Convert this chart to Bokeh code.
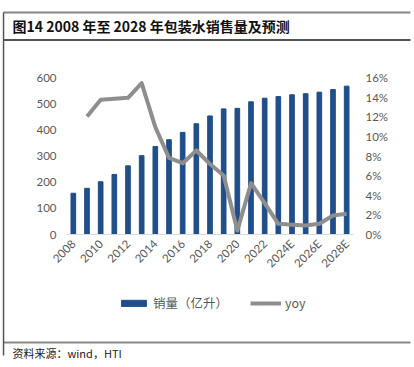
import math
from bokeh.plotting import figure
from bokeh.models import (Range1d, LinearAxis, FixedTicker, PrintfTickFormatter,
                          Legend, LegendItem, Label, BoxAnnotation)
from bokeh.embed import file_html
from bokeh.resources import INLINE

years = ["2008", "2009", "2010", "2011", "2012", "2013", "2014", "2015", "2016", "2017",
         "2018", "2019", "2020", "2021", "2022", "2023", "2024E", "2025E", "2026E",
         "2027E", "2028E"]
sales = [158, 177, 202, 230, 263, 302, 337, 363, 391, 424, 454, 481, 483, 508, 522,
         528, 535, 539, 545, 555, 568]
yoy = [None, 12.05, 13.75, 13.86, 13.96, 15.46, 10.96, 7.83, 7.28, 8.58, 7.2, 6.03, 0.4,
       5.24, 3.2, 1.09, 0.99, 0.92, 1.09, 1.94, 2.11]
shown_labels = ["2008", "2010", "2012", "2014", "2016", "2018", "2020", "2022",
                "2024E", "2026E", "2028E"]
left_ticks = [0, 100, 200, 300, 400, 500, 600]
right_ticks = [0, 2, 4, 6, 8, 10, 12, 14, 16]

title_text = "图14 2008 年至 2028 年包装水销售量及预测"
source_text = "资料来源：wind，HTI"
bar_name = "销量（亿升）"
line_name = "yoy"

BAR_COLOR = "#1f4e8a"
LINE_COLOR = "#8e8e8e"
TICK_COLOR = "#595959"
TICK_FONT = "Lato"
CJK_FONT = "Noto Sans CJK SC"

W, H = 414, 367
# plot-area geometry (canvas pixels)
PX_L, PX_R, PX_TOP, PX_ZERO = 66.0, 353.0, 77.3, 234.0

idx = list(range(len(years)))
n = len(years)
step = (PX_R - PX_L) / n
x0 = -PX_L / step - 0.5
x1 = (W - PX_L) / step - 0.5
ymax = left_ticks[-1]
ppu = (PX_ZERO - PX_TOP) / ymax
y0 = -(H - PX_ZERO) / ppu
y1 = ymax + PX_TOP / ppu
pscale = right_ticks[-1] / ymax

p = figure(width=W, height=H, output_backend="svg", toolbar_location=None, title=None,
           x_range=Range1d(x0, x1), y_range=Range1d(y0, y1),
           min_border=0, min_border_left=0, min_border_right=0,
           min_border_top=0, min_border_bottom=0)
p.outline_line_color = None
p.xgrid.grid_line_color = None
p.ygrid.grid_line_color = None
p.background_fill_color = "white"
p.border_fill_color = "white"

p.extra_y_ranges = {"pct": Range1d(y0 * pscale, y1 * pscale)}

bars = p.vbar(x=idx, top=sales, width=0.34, color=BAR_COLOR)
yoy_x = [i for i, v in zip(idx, yoy) if v is not None]
yoy_y = [v for v in yoy if v is not None]
ln = p.line(x=yoy_x, y=yoy_y, y_range_name="pct", line_color=LINE_COLOR, line_width=4,
            line_join="round")

# left axis
ya = p.yaxis[0]
ya.fixed_location = -0.5
ya.ticker = FixedTicker(ticks=left_ticks)
ya.bounds = (left_ticks[0], left_ticks[-1])
ya.axis_line_color = None
ya.major_tick_line_color = None
ya.minor_tick_line_color = None
ya.major_tick_out = 0
ya.major_tick_in = 0
ya.major_label_standoff = 10
ya.major_label_text_font = TICK_FONT
ya.major_label_text_font_size = "11.5px"
ya.major_label_text_color = TICK_COLOR

# right axis
ra = LinearAxis(y_range_name="pct", ticker=FixedTicker(ticks=right_ticks),
                formatter=PrintfTickFormatter(format="%d%%"))
ra.fixed_location = n - 0.5
ra.bounds = (right_ticks[0], right_ticks[-1])
ra.axis_line_color = None
ra.major_tick_line_color = None
ra.minor_tick_line_color = None
ra.major_tick_out = 0
ra.major_tick_in = 0
ra.major_label_standoff = 12
ra.major_label_text_font = TICK_FONT
ra.major_label_text_font_size = "11.5px"
ra.major_label_text_color = TICK_COLOR
p.add_layout(ra, "right")

# bottom axis
xa = p.xaxis[0]
xa.fixed_location = 0
xa.bounds = (-0.5, n - 0.5)
xa.ticker = FixedTicker(ticks=[i for i, y in zip(idx, years) if y in shown_labels])
xa.major_label_overrides = {i: y for i, y in zip(idx, years)}
xa.axis_line_color = "#d9d9d9"
xa.axis_line_width = 1
xa.major_tick_line_color = None
xa.minor_tick_line_color = None
xa.major_tick_out = 0
xa.major_tick_in = 0
xa.major_label_standoff = 7
xa.major_label_orientation = math.pi / 4
xa.major_label_text_font = TICK_FONT
xa.major_label_text_font_size = "11.5px"
xa.major_label_text_color = TICK_COLOR

# legend (frame covers the whole canvas; screen coords measured from bottom-left)
lg = Legend(items=[LegendItem(label=bar_name, renderers=[bars]),
                   LegendItem(label=line_name, renderers=[ln])],
            orientation="horizontal", location=(118, H - 312))
lg.border_line_color = None
lg.background_fill_alpha = 0
lg.padding = 0
lg.margin = 0
lg.spacing = 22
lg.glyph_width = 31
lg.glyph_height = 8
lg.label_height = 12
lg.label_standoff = 4
lg.label_text_font = CJK_FONT
lg.label_text_font_size = "12.5px"
lg.label_text_color = TICK_COLOR
p.add_layout(lg, "center")


def hbox(left, right, top, bottom, color):
    return BoxAnnotation(left=left, right=right, top=H - top, bottom=H - bottom,
                         left_units="screen", right_units="screen",
                         top_units="screen", bottom_units="screen",
                         fill_color=color, fill_alpha=1, line_color=None, level="overlay")


p.add_layout(hbox(3, 410, 11, 13, "#868686"))
p.add_layout(hbox(3, 410, 38.8, 40.3, "#1a1a1a"))
p.add_layout(hbox(3, 410, 341, 343, "#888888"))
p.add_layout(hbox(2.3, 3.8, 12, 355, "#555555"))

p.add_layout(Label(x=12, y=H - 25, x_units="screen", y_units="screen", text=title_text,
                   text_font=CJK_FONT, text_font_style="bold", text_font_size="14px",
                   text_color="#111111", text_baseline="middle", text_align="left"))
p.add_layout(Label(x=12, y=H - 352, x_units="screen", y_units="screen", text=source_text,
                   text_font=CJK_FONT, text_font_size="11px",
                   text_color="#222222", text_baseline="middle", text_align="left"))

open("out.html", "w").write(file_html(p, INLINE))
